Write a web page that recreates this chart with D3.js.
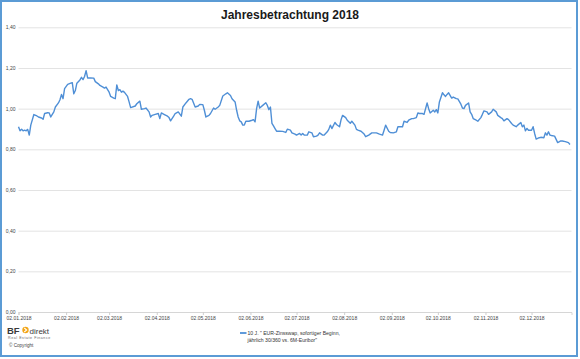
<!DOCTYPE html>
<html>
<head>
<meta charset="utf-8">
<script src="https://cdn.jsdelivr.net/npm/d3@7"></script>
<style>
  html, body { margin: 0; padding: 0; background: #fff; }
  svg { display: block; font-family: "Liberation Sans", Arial, sans-serif; }
</style>
</head>
<body>
<svg id="chart" width="580" height="359"></svg>
<script>
const title = "Jahresbetrachtung 2018";
const seriesName = ["10 J. \" EUR-Zinsswap, sofortiger Beginn,", "jährlich 30/360 vs. 6M-Euribor\""];

const dates = [
"2018-01-02","2018-01-03","2018-01-04","2018-01-05","2018-01-06","2018-01-07","2018-01-08","2018-01-09","2018-01-10","2018-01-12",
"2018-01-14","2018-01-15","2018-01-17","2018-01-18","2018-01-19","2018-01-21","2018-01-22","2018-01-23","2018-01-25","2018-01-26",
"2018-01-28","2018-01-29","2018-01-30","2018-01-31","2018-02-01","2018-02-03","2018-02-05","2018-02-06","2018-02-07","2018-02-08",
"2018-02-09","2018-02-11","2018-02-12","2018-02-13","2018-02-14","2018-02-15","2018-02-16","2018-02-18","2018-02-20","2018-02-21",
"2018-02-23","2018-02-24","2018-02-26","2018-02-27","2018-02-28","2018-03-02","2018-03-03","2018-03-05","2018-03-06","2018-03-07",
"2018-03-08","2018-03-09","2018-03-10","2018-03-11","2018-03-12","2018-03-14","2018-03-15","2018-03-16","2018-03-19","2018-03-20",
"2018-03-22","2018-03-23","2018-03-25","2018-03-26","2018-03-28","2018-03-29","2018-03-30","2018-04-01","2018-04-03","2018-04-04",
"2018-04-05","2018-04-07","2018-04-09","2018-04-10","2018-04-11","2018-04-13","2018-04-14","2018-04-16","2018-04-18","2018-04-19",
"2018-04-21","2018-04-23","2018-04-24","2018-04-25","2018-04-27","2018-04-29","2018-04-30","2018-05-02","2018-05-03","2018-05-04",
"2018-05-06","2018-05-07","2018-05-09","2018-05-10","2018-05-12","2018-05-13","2018-05-15","2018-05-17","2018-05-18","2018-05-20",
"2018-05-21","2018-05-23","2018-05-24","2018-05-25","2018-05-26","2018-05-27","2018-05-28","2018-05-29","2018-05-30","2018-06-01",
"2018-06-03","2018-06-04","2018-06-05","2018-06-06","2018-06-07","2018-06-08","2018-06-10","2018-06-12","2018-06-13","2018-06-14",
"2018-06-15","2018-06-16","2018-06-17","2018-06-18","2018-06-19","2018-06-21","2018-06-23","2018-06-25","2018-06-26","2018-06-28",
"2018-06-29","2018-07-01","2018-07-02","2018-07-04","2018-07-05","2018-07-06","2018-07-07","2018-07-09","2018-07-10","2018-07-12",
"2018-07-13","2018-07-15","2018-07-16","2018-07-17","2018-07-19","2018-07-20","2018-07-22","2018-07-23","2018-07-24","2018-07-25",
"2018-07-27","2018-07-28","2018-07-30","2018-07-31","2018-08-01","2018-08-03","2018-08-04","2018-08-06","2018-08-07","2018-08-09",
"2018-08-10","2018-08-11","2018-08-13","2018-08-15","2018-08-16","2018-08-18","2018-08-20","2018-08-21","2018-08-23","2018-08-25",
"2018-08-27","2018-08-28","2018-08-29","2018-08-31","2018-09-01","2018-09-03","2018-09-05","2018-09-06","2018-09-07","2018-09-09",
"2018-09-10","2018-09-12","2018-09-13","2018-09-15","2018-09-16","2018-09-18","2018-09-19","2018-09-20","2018-09-22","2018-09-23",
"2018-09-25","2018-09-26","2018-09-27","2018-09-29","2018-09-30","2018-10-01","2018-10-02","2018-10-03","2018-10-05","2018-10-06",
"2018-10-07","2018-10-08","2018-10-09","2018-10-11","2018-10-12","2018-10-14","2018-10-15","2018-10-17","2018-10-18","2018-10-19",
"2018-10-20","2018-10-22","2018-10-23","2018-10-24","2018-10-25","2018-10-27","2018-10-28","2018-10-30","2018-10-31","2018-11-01",
"2018-11-03","2018-11-04","2018-11-06","2018-11-07","2018-11-09","2018-11-10","2018-11-12","2018-11-13","2018-11-14","2018-11-16",
"2018-11-17","2018-11-19","2018-11-20","2018-11-22","2018-11-23","2018-11-25","2018-11-26","2018-11-27","2018-11-28","2018-11-29",
"2018-11-30","2018-12-02","2018-12-03","2018-12-04","2018-12-05","2018-12-07","2018-12-08","2018-12-10","2018-12-11","2018-12-12",
"2018-12-13","2018-12-14","2018-12-15","2018-12-17","2018-12-18","2018-12-19","2018-12-21","2018-12-22","2018-12-24","2018-12-26",
"2018-12-27"
];

const values = [
0.911,0.891,0.899,0.891,0.894,0.891,0.898,0.870,0.919,0.971,
0.964,0.959,0.954,0.948,0.976,0.980,0.979,0.959,0.984,1.008,
1.028,1.044,1.070,1.049,1.098,1.119,1.125,1.128,1.073,1.089,
1.125,1.141,1.154,1.143,1.158,1.187,1.151,1.151,1.150,1.133,
1.122,1.114,1.106,1.101,1.106,1.081,1.060,1.052,1.049,1.117,
1.089,1.093,1.081,1.086,1.080,1.060,1.033,1.005,1.013,1.024,
1.037,0.997,1.000,1.003,0.984,0.959,0.967,0.972,0.976,0.951,
0.979,0.971,0.963,0.956,0.940,0.963,0.976,0.984,0.963,1.008,
1.028,1.046,1.049,1.046,1.008,1.013,1.021,1.020,0.992,0.959,
0.967,0.976,1.003,0.997,1.008,1.016,1.062,1.073,1.078,1.065,
1.049,1.033,0.992,0.959,0.940,0.935,0.919,0.919,0.938,0.938,
0.943,0.946,0.935,1.000,1.037,1.003,1.016,1.029,1.016,0.995,
1.008,0.927,0.915,0.902,0.889,0.889,0.888,0.883,0.899,0.894,
0.881,0.875,0.870,0.878,0.870,0.878,0.870,0.870,0.886,0.881,
0.862,0.865,0.870,0.881,0.870,0.870,0.886,0.898,0.919,0.902,
0.932,0.922,0.911,0.946,0.967,0.956,0.943,0.928,0.938,0.919,
0.898,0.894,0.889,0.875,0.862,0.870,0.881,0.881,0.881,0.875,
0.870,0.894,0.919,0.889,0.883,0.881,0.886,0.911,0.911,0.911,
0.938,0.932,0.943,0.951,0.951,0.956,0.979,0.976,0.976,0.972,
1.028,1.000,0.979,0.992,0.984,0.995,0.979,1.033,1.078,1.068,
1.060,1.070,1.078,1.052,1.057,1.049,1.048,1.022,1.003,1.000,
1.016,1.028,0.984,0.972,0.951,0.943,0.938,0.956,0.972,0.989,
0.984,0.972,0.984,0.997,0.984,0.967,0.956,0.951,0.940,0.951,
0.946,0.927,0.919,0.911,0.919,0.932,0.911,0.919,0.891,0.903,
0.894,0.894,0.911,0.878,0.850,0.857,0.859,0.857,0.881,0.870,
0.886,0.870,0.868,0.865,0.849,0.833,0.841,0.841,0.838,0.833,
0.824
];

const yTickValues = [0, 0.2, 0.4, 0.6, 0.8, 1.0, 1.2, 1.4];
const yTickLabels = ["0,00","0,20","0,40","0,60","0,80","1,00","1,20","1,40"];
const xTickDates = ["2018-01-02","2018-02-02","2018-03-02","2018-04-02","2018-05-02","2018-06-02",
                    "2018-07-02","2018-08-02","2018-09-02","2018-10-02","2018-11-02","2018-12-02"];
const xDomain = ["2018-01-02","2018-12-28"];

const parse = d3.timeParse("%Y-%m-%d");
const fmt = d3.timeFormat("%d.%m.%Y");
const data = dates.map((d, i) => ({ date: parse(d), value: values[i] }));

const svg = d3.select("#chart");
const lineColor = "#4f8fd6";

const x = d3.scaleTime().domain(xDomain.map(parse)).range([18.5, 571.5]);
const y = d3.scaleLinear().domain([0, 1.4]).range([312, 27.3]);

// frame
svg.append("rect").attr("x", 1).attr("y", 1).attr("width", 576).attr("height", 355)
  .attr("fill", "#fff").attr("stroke", "#5b9bd5").attr("stroke-width", 2);

// title
svg.append("text").attr("x", 290).attr("y", 19).attr("text-anchor", "middle")
  .attr("font-size", 12).attr("font-weight", "bold").attr("fill", "#1a1a1a").text(title);

// y axis + gridlines
const yAxis = svg.append("g").attr("transform", "translate(18.5,0)")
  .call(d3.axisLeft(y).tickValues(yTickValues)
    .tickFormat((d, i) => yTickLabels[i])
    .tickSize(-(571.5 - 18.5)).tickPadding(3));
yAxis.select(".domain").remove();
yAxis.selectAll(".tick line").attr("stroke", "#e3e3e3").attr("stroke-width", 1);
yAxis.selectAll(".tick text").attr("font-size", 5).attr("fill", "#444")
  .attr("font-family", "'Liberation Sans', Arial, sans-serif");

// x axis
const xAxis = svg.append("g").attr("transform", "translate(0,312)")
  .call(d3.axisBottom(x).tickValues(xTickDates.map(parse)).tickFormat(fmt)
    .tickSize(3).tickPadding(1.5));
xAxis.select(".domain").attr("stroke", "#d6d6d6");
xAxis.selectAll(".tick line").attr("stroke", "#cfcfcf");
xAxis.selectAll(".tick text").attr("font-size", 5).attr("fill", "#444")
  .attr("font-family", "'Liberation Sans', Arial, sans-serif");

// line
svg.append("path").datum(data)
  .attr("fill", "none").attr("stroke", lineColor).attr("stroke-width", 1.4)
  .attr("stroke-linejoin", "round")
  .attr("d", d3.line().x(d => x(d.date)).y(d => y(d.value)));

// legend
const lg = svg.append("g");
lg.append("line").attr("x1", 240).attr("x2", 246.5).attr("y1", 333).attr("y2", 333)
  .attr("stroke", lineColor).attr("stroke-width", 1.8);
lg.selectAll("text.leg").data(seriesName).join("text").attr("class", "leg")
  .attr("x", 247.5).attr("y", (d, i) => 335 + i * 7)
  .attr("font-size", 5.1).attr("fill", "#333").text(d => d);

// logo
const logo = svg.append("g");
logo.append("text").attr("x", 7).attr("y", 333.5).attr("font-size", 9.5)
  .attr("font-weight", "bold").attr("fill", "#3a3a3a").text("BF");
logo.append("circle").attr("cx", 25.5).attr("cy", 330).attr("r", 3.2).attr("fill", "#f2a516");
logo.append("path").attr("d", "M24.3,328 L26.6,330 L24.3,332").attr("fill", "none")
  .attr("stroke", "#fff").attr("stroke-width", 1.1);
logo.append("text").attr("x", 29.5).attr("y", 333.5).attr("font-size", 8)
  .attr("fill", "#3a3a3a").text("direkt");
logo.append("text").attr("x", 8).attr("y", 338.8).attr("font-size", 3.6)
  .attr("letter-spacing", 0.55).attr("fill", "#666").text("Real Estate Finance");
logo.append("text").attr("x", 9).attr("y", 346.8).attr("font-size", 4.6)
  .attr("fill", "#444").text("© Copyright");
</script>
</body>
</html>
